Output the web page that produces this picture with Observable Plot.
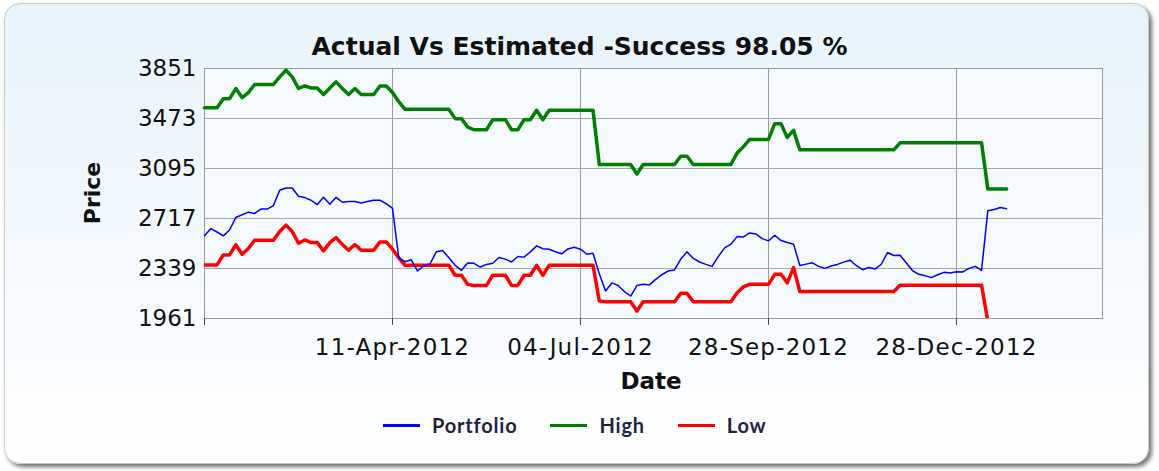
<!DOCTYPE html>
<html><head><meta charset="utf-8">
<script src="https://cdn.jsdelivr.net/npm/d3@7"></script>
<script src="https://cdn.jsdelivr.net/npm/@observablehq/plot@0.6"></script>
<style>
body{margin:0;background:#fff;}
#wrap{position:relative;width:1159px;height:471px;overflow:hidden;font-family:"DejaVu Sans",sans-serif;}
#card{position:absolute;left:4px;top:3px;width:1143px;height:459px;border:1px solid #c9c9c9;border-radius:16px;background:linear-gradient(to bottom,#e8f3fb 0%,#f3f9fd 55%,#ffffff 100%);box-shadow:3px 3px 4px rgba(0,0,0,0.55);}
#title{position:absolute;left:0;width:1159px;top:32px;text-align:center;font:bold 25px "DejaVu Sans";color:#111;}
#chart{position:absolute;left:0;top:0;}
#ylab{position:absolute;left:92px;top:193px;transform:translate(-50%,-50%) rotate(-90deg);font:bold 22px "DejaVu Sans";color:#111;white-space:nowrap;}
#xlab{position:absolute;left:651px;top:381px;transform:translate(-50%,-50%);font:bold 23px "DejaVu Sans";color:#111;}
#legend{position:absolute;left:383px;top:413px;display:flex;align-items:center;gap:33px;font:bold 20px Lato;letter-spacing:0.8px;color:#222240;}
.item{display:flex;align-items:center;gap:12px;}
.sw{width:37px;height:3px;}
.tick-text text{letter-spacing:1.2px;}
</style>
</head><body>
<div id="wrap">
<div id="card"></div>
<div id="chart"></div>
<div id="title">Actual Vs Estimated -Success 98.05 %</div>
<div id="ylab">Price</div>
<div id="xlab">Date</div>
<div id="legend"></div>
</div>
<script>
const seriesNames = ["Portfolio", "High", "Low"];
const seriesColors = ["#0000ff", "#008000", "#ff0000"];
const xTickIndex = [0, 30, 60, 90, 120];
const xTickLabels = ["", "11-Apr-2012", "04-Jul-2012", "28-Sep-2012", "28-Dec-2012"];
const yTicks = [1961, 2339, 2717, 3095, 3473, 3851];

const portfolio = [
2586,2640,2615,2586,2630,2725,2745,2765,2755,2788,
2788,2815,2930,2948,2948,2885,2875,2855,2822,2877,
2825,2877,2840,2845,2845,2834,2845,2855,2855,2830,
2793,2420,2390,2405,2320,2360,2375,2465,2475,2420,
2363,2325,2380,2378,2350,2370,2379,2422,2410,2388,
2430,2425,2465,2510,2488,2485,2466,2450,2487,2500,
2485,2447,2455,2300,2169,2230,2210,2165,2131,2210,
2220,2215,2257,2292,2320,2328,2410,2465,2415,2388,
2370,2355,2430,2495,2523,2580,2578,2608,2599,2565,
2548,2590,2550,2535,2523,2362,2372,2382,2355,2340,
2358,2370,2387,2402,2362,2330,2346,2335,2371,2460,
2437,2439,2380,2322,2295,2285,2270,2292,2310,2305,
2315,2313,2340,2355,2325,2776,2785,2800,2790
];
const high = [
3555,3555,3555,3623,3623,3699,3631,3669,3730,3730,
3730,3730,3788,3838,3788,3700,3719,3704,3704,3654,
3704,3750,3700,3654,3699,3654,3654,3654,3719,3719,
3669,3600,3542,3542,3542,3542,3542,3542,3542,3542,
3472,3472,3408,3388,3388,3388,3464,3464,3464,3388,
3388,3464,3464,3535,3464,3535,3535,3535,3535,3535,
3535,3535,3535,3125,3125,3125,3125,3125,3125,3054,
3125,3125,3125,3125,3125,3125,3188,3188,3125,3125,
3125,3125,3125,3125,3125,3213,3260,3315,3315,3315,
3315,3434,3434,3330,3383,3236,3236,3236,3236,3236,
3236,3236,3236,3236,3236,3236,3236,3236,3236,3236,
3236,3289,3289,3289,3289,3289,3289,3289,3289,3289,
3289,3289,3289,3289,3289,2940,2940,2940,2940
];
const low = [
2366,2366,2366,2442,2442,2518,2447,2490,2553,2553,
2553,2553,2619,2667,2619,2530,2555,2535,2535,2472,
2535,2573,2520,2477,2520,2477,2477,2477,2540,2540,
2485,2420,2363,2363,2363,2363,2363,2363,2363,2363,
2288,2288,2219,2211,2211,2211,2288,2288,2288,2211,
2211,2288,2288,2363,2288,2363,2363,2363,2363,2363,
2363,2363,2363,2093,2088,2088,2088,2088,2088,2017,
2088,2088,2088,2088,2088,2088,2151,2151,2088,2088,
2088,2088,2088,2088,2088,2156,2200,2219,2219,2219,
2219,2295,2295,2230,2346,2165,2165,2165,2165,2165,
2165,2165,2165,2165,2165,2165,2165,2165,2165,2165,
2165,2213,2213,2213,2213,2213,2213,2213,2213,2213,
2213,2213,2213,2213,2213,1940,1940,1940,1940
];

const toRows = vals => vals.map((v, i) => ({i, v}));

const chart = Plot.plot({
  width: 1159, height: 400,
  marginLeft: 204, marginRight: 57, marginTop: 68, marginBottom: 82,
  style: {background: "transparent", fontFamily: "DejaVu Sans", color: "#111"},
  x: {domain: [0, 143.3]},
  y: {domain: [1961, 3851]},
  marks: [
    Plot.frame({fill: "#f5faff", stroke: null}),
    Plot.gridX(xTickIndex, {stroke: "#9a9a9a", strokeOpacity: 1}),
    Plot.gridY(yTicks, {stroke: "#a8a8a8", strokeOpacity: 1}),
    Plot.frame({stroke: "#999"}),
    Plot.axisX(xTickIndex, {tickFormat: d => xTickLabels[xTickIndex.indexOf(d)], fontSize: 23, tickSize: 7, tickPadding: 13, label: null, stroke: "#444", className: "tick-text"}),
    Plot.axisY(yTicks, {tickFormat: d => String(d), tickSize: 0, tickPadding: 8, fontSize: 23, label: null}),
    Plot.lineY(toRows(high), {x: "i", y: "v", stroke: seriesColors[1], strokeWidth: 3.5}),
    Plot.lineY(toRows(low), {x: "i", y: "v", stroke: seriesColors[2], strokeWidth: 3.5, clip: true}),
    Plot.lineY(toRows(portfolio), {x: "i", y: "v", stroke: seriesColors[0], strokeWidth: 1.5})
  ]
});
document.getElementById("chart").appendChild(chart);

const legend = document.getElementById("legend");
seriesNames.forEach((name, k) => {
  const item = document.createElement("div");
  item.className = "item";
  const sw = document.createElement("div");
  sw.className = "sw";
  sw.style.background = seriesColors[k];
  const t = document.createElement("span");
  t.textContent = name;
  item.appendChild(sw); item.appendChild(t);
  legend.appendChild(item);
});
</script>
</body></html>
